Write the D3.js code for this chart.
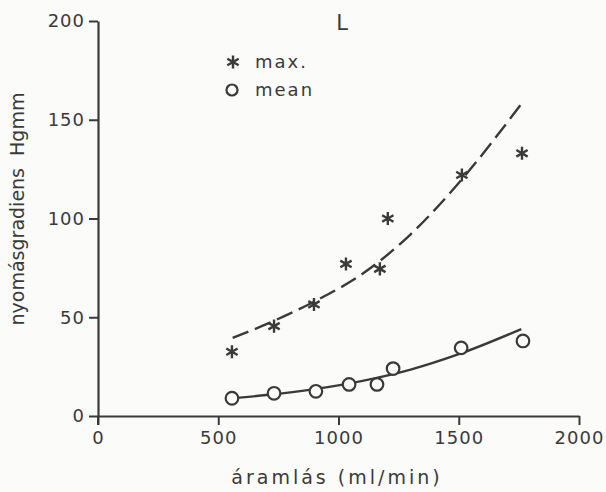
<!DOCTYPE html>
<html>
<head>
<meta charset="utf-8">
<script src="https://cdn.jsdelivr.net/npm/d3@7"></script>
<style>
  body { margin: 0; background: #fbfbfa; }
  svg { display: block; }
  text { font-family: "DejaVu Sans", sans-serif; fill: #3a3a3a; }
</style>
</head>
<body>
<div id="vis"></div>
<script>
// data
const maxFlow = [557, 732, 898, 1031, 1172, 1205, 1513, 1763];
const maxVal  = [32.5, 45.5, 56.5, 77, 74.5, 100, 122, 133];
const meanFlow = [557, 732, 906, 1044, 1160, 1227, 1510, 1767];
const meanVal  = [9, 11.5, 12.5, 16, 16, 24, 34.5, 38];

// fitted curves as drawn
const maxFitFlow = [560, 700, 900, 1100, 1300, 1500, 1760];
const maxFitVal  = [39.5, 46.5, 58, 72, 92, 118, 158];
const meanFitFlow = [560, 700, 900, 1100, 1300, 1500, 1760];
const meanFitVal  = [9, 10.6, 13.6, 17.8, 23.5, 31.3, 44];

const xTicks = [0, 500, 1000, 1500, 2000];
const yTicks = [0, 50, 100, 150, 200];

const ink = "#3a3a3a";
const width = 606, height = 492;

const x = d3.scaleLinear().domain([0, 2000]).range([98, 579]);
const y = d3.scaleLinear().domain([0, 200]).range([416, 21]);

const svg = d3.select("#vis").append("svg")
  .attr("width", width)
  .attr("height", height);

//#region axes
const xAxis = svg.append("g")
  .attr("transform", `translate(0,${y(0)})`)
  .call(d3.axisBottom(x).tickValues(xTicks).tickFormat(d3.format("d"))
    .tickSize(9).tickPadding(6).tickSizeOuter(0));

const yAxis = svg.append("g")
  .attr("transform", `translate(${x(0)},0)`)
  .call(d3.axisLeft(y).tickValues(yTicks).tickFormat(d3.format("d"))
    .tickSize(9).tickPadding(4).tickSizeOuter(0));

[xAxis, yAxis].forEach(g => {
  g.select(".domain").attr("stroke", ink).attr("stroke-width", 2.2);
  g.selectAll(".tick line").attr("stroke", ink).attr("stroke-width", 2);
  g.selectAll(".tick text")
    .attr("fill", ink)
    .style("font-size", "18px")
    .style("letter-spacing", "1px")
    .style("font-family", "DejaVu Sans, sans-serif");
});

// y axis pokes below the x axis at the origin
svg.append("line")
  .attr("x1", x(0)).attr("x2", x(0))
  .attr("y1", y(0)).attr("y2", y(0) + 9)
  .attr("stroke", ink).attr("stroke-width", 2);

svg.append("text")
  .attr("x", 337)
  .attr("y", 484)
  .attr("text-anchor", "middle")
  .style("font-size", "19px")
  .style("letter-spacing", "3px")
  .text("áramlás (ml/min)");

svg.append("text")
  .attr("transform", `translate(24,209) rotate(-90)`)
  .attr("text-anchor", "middle")
  .style("font-size", "19px")
  .text("nyomásgradiens\u00a0\u00a0Hgmm");

svg.append("text")
  .attr("x", 342).attr("y", 30)
  .attr("text-anchor", "middle")
  .style("font-size", "21px")
  .text("L");
//#endregion

//#region curves + points
const line = d3.line().curve(d3.curveMonotoneX);

svg.append("path")
  .attr("d", line(maxFitFlow.map((f, i) => [x(f), y(maxFitVal[i])])))
  .attr("fill", "none")
  .attr("stroke", ink)
  .attr("stroke-width", 2.4)
  .attr("stroke-dasharray", "17,7");

svg.append("path")
  .attr("d", line(meanFitFlow.map((f, i) => [x(f), y(meanFitVal[i])])))
  .attr("fill", "none")
  .attr("stroke", ink)
  .attr("stroke-width", 2.4);

const star = d3.symbol().type(d3.symbolAsterisk).size(120);

svg.append("g")
  .selectAll("path")
  .data(maxFlow)
  .join("path")
    .attr("transform", (d, i) => `translate(${x(d)},${y(maxVal[i])})`)
    .attr("d", star)
    .attr("fill", "none")
    .attr("stroke", ink)
    .attr("stroke-width", 2.4);

svg.append("g")
  .selectAll("circle")
  .data(meanFlow)
  .join("circle")
    .attr("cx", d => x(d))
    .attr("cy", (d, i) => y(meanVal[i]))
    .attr("r", 6.3)
    .attr("fill", "#fbfbfa")
    .attr("stroke", ink)
    .attr("stroke-width", 2.2);
//#endregion

//#region legend
const legend = svg.append("g");
legend.append("path")
  .attr("transform", "translate(233,62)")
  .attr("d", star)
  .attr("fill", "none")
  .attr("stroke", ink)
  .attr("stroke-width", 2.4);
legend.append("text").attr("x", 255).attr("y", 68)
  .style("font-size", "18px").style("letter-spacing", "2px").text("max.");
legend.append("circle")
  .attr("cx", 232).attr("cy", 90).attr("r", 5.5)
  .attr("fill", "none").attr("stroke", ink).attr("stroke-width", 2.2);
legend.append("text").attr("x", 255).attr("y", 96)
  .style("font-size", "18px").style("letter-spacing", "2px").text("mean");
//#endregion
</script>
</body>
</html>
